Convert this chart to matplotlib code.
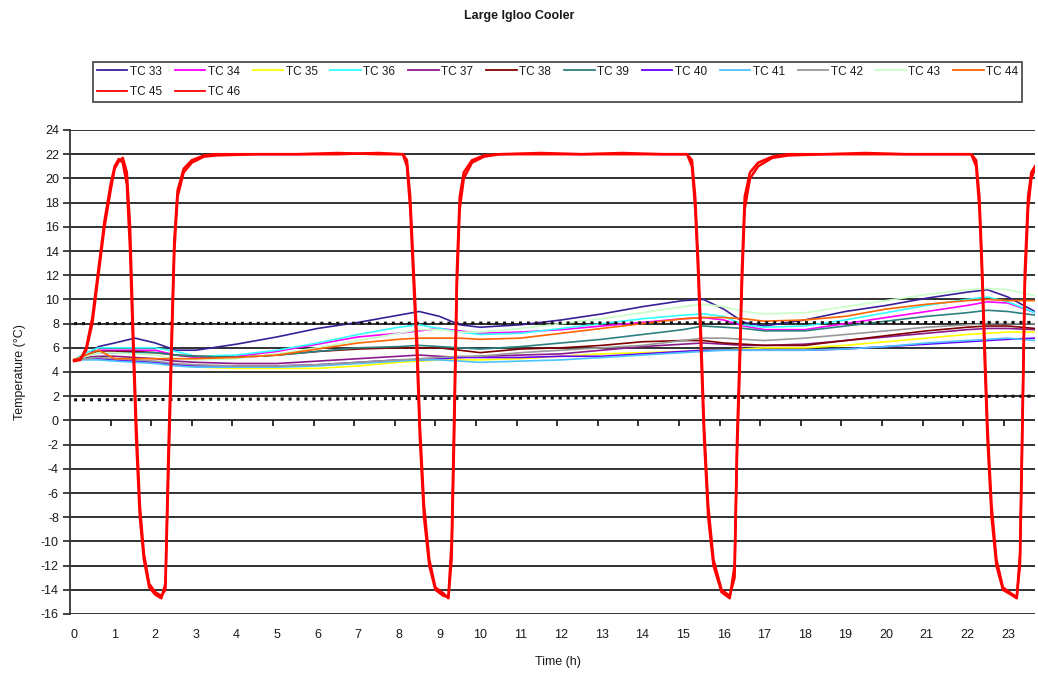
import numpy as np
import matplotlib
matplotlib.use("Agg")
import matplotlib.pyplot as plt
from matplotlib.ticker import FixedLocator

plt.rcParams['font.family'] = ['Liberation Sans', 'DejaVu Sans']

# ---------------- data ----------------
hours = [0, 0.3, 0.6, 1, 1.5, 2, 2.5, 3, 4, 5, 6, 7, 8, 8.5, 9, 9.5, 10, 11, 12,
         13, 14, 15, 15.5, 16, 16.5, 17, 18, 19, 20, 21, 22, 22.5, 23, 23.67]

tc33 = [5.0, 5.3, 6.1, 6.4, 6.8, 6.4, 5.8, 5.8, 6.3, 6.9, 7.6, 8.1, 8.7, 9.0, 8.6, 7.9, 7.7,
        7.9, 8.3, 8.8, 9.4, 9.9, 10.0, 9.2, 8.1, 7.8, 8.3, 9.0, 9.5, 10.1, 10.6, 10.8, 10.2, 9.0]
tc34 = [5.0, 5.4, 5.8, 5.8, 5.8, 5.8, 5.4, 5.2, 5.3, 5.7, 6.3, 6.9, 7.2, 7.4, 7.6, 7.4, 7.2,
        7.3, 7.5, 7.8, 8.1, 8.4, 8.5, 8.3, 7.8, 7.5, 7.5, 8.0, 8.5, 9.0, 9.5, 9.8, 9.7, 8.9]
tc35 = [5.0, 5.1, 5.2, 5.1, 5.0, 4.8, 4.6, 4.4, 4.3, 4.3, 4.3, 4.5, 4.8, 4.9, 5.0, 5.0, 5.0,
        5.1, 5.3, 5.5, 5.6, 5.7, 5.8, 5.8, 5.9, 6.0, 6.0, 6.2, 6.5, 6.8, 7.1, 7.2, 7.3, 7.3]
tc36 = [5.0, 5.6, 6.0, 6.0, 6.0, 6.0, 5.7, 5.3, 5.4, 5.8, 6.4, 7.1, 7.7, 7.9, 7.6, 7.3, 7.1,
        7.2, 7.6, 8.0, 8.4, 8.7, 8.8, 8.6, 7.9, 7.7, 7.8, 8.3, 8.9, 9.5, 10.0, 10.2, 9.8, 8.9]
tc37 = [5.0, 5.2, 5.3, 5.3, 5.2, 5.1, 4.9, 4.8, 4.7, 4.7, 4.9, 5.1, 5.3, 5.4, 5.3, 5.2, 5.3,
        5.4, 5.5, 5.8, 6.1, 6.3, 6.4, 6.3, 6.2, 6.2, 6.3, 6.6, 6.9, 7.2, 7.5, 7.6, 7.6, 7.5]
tc38 = [5.0, 5.4, 5.7, 5.7, 5.7, 5.6, 5.4, 5.3, 5.2, 5.4, 5.7, 5.9, 6.0, 6.0, 6.0, 5.8, 5.6,
        5.9, 6.0, 6.2, 6.5, 6.6, 6.6, 6.4, 6.3, 6.2, 6.2, 6.6, 7.0, 7.4, 7.7, 7.8, 7.8, 7.6]
tc39 = [5.0, 5.3, 5.6, 5.6, 5.6, 5.6, 5.4, 5.3, 5.2, 5.4, 5.7, 6.0, 6.1, 6.2, 6.1, 6.0, 5.9,
        6.1, 6.4, 6.7, 7.1, 7.5, 7.8, 7.7, 7.6, 7.4, 7.4, 7.8, 8.2, 8.6, 8.9, 9.1, 9.0, 8.7]
tc40 = [5.0, 5.1, 5.1, 5.0, 4.9, 4.8, 4.6, 4.5, 4.5, 4.5, 4.6, 4.8, 5.0, 5.0, 5.1, 5.2, 5.2,
        5.2, 5.3, 5.3, 5.5, 5.7, 5.8, 5.8, 5.8, 5.8, 5.8, 5.9, 6.1, 6.3, 6.5, 6.6, 6.7, 6.8]
tc41 = [5.0, 5.0, 5.0, 4.9, 4.8, 4.7, 4.5, 4.4, 4.4, 4.4, 4.5, 4.7, 4.9, 5.0, 5.0, 4.9, 4.8,
        4.9, 5.0, 5.2, 5.4, 5.6, 5.7, 5.8, 5.8, 5.8, 5.8, 5.9, 6.1, 6.4, 6.6, 6.7, 6.8, 6.6]
tc42 = [5.0, 5.1, 5.2, 5.1, 5.0, 4.9, 4.7, 4.6, 4.5, 4.5, 4.6, 4.8, 5.0, 5.1, 5.2, 5.3, 5.3,
        5.6, 5.8, 6.0, 6.2, 6.6, 6.8, 6.8, 6.7, 6.6, 6.8, 7.1, 7.4, 7.7, 7.9, 8.0, 8.0, 8.0]
tc43 = [5.0, 5.3, 5.6, 5.6, 5.5, 5.4, 5.1, 5.0, 5.1, 5.5, 6.0, 6.6, 7.2, 7.5, 7.5, 7.3, 7.3,
        7.6, 8.0, 8.4, 8.9, 9.4, 9.6, 9.4, 9.0, 8.8, 8.9, 9.4, 9.9, 10.4, 10.8, 10.9, 10.8, 10.3]
tc44 = [5.0, 5.4, 5.8, 5.1, 5.1, 5.1, 5.1, 5.1, 5.2, 5.4, 5.9, 6.4, 6.7, 6.8, 6.8, 6.8, 6.7,
        6.8, 7.2, 7.6, 8.0, 8.4, 8.5, 8.5, 8.4, 8.2, 8.3, 8.6, 9.2, 9.6, 9.9, 10.0, 9.9, 9.9]

red_hours = [0, 0.15, 0.3, 0.45, 0.6, 0.75, 0.9, 1.0, 1.1, 1.2,
             1.3, 1.38, 1.45, 1.53, 1.62, 1.72, 1.85, 2.0, 2.15, 2.25,
             2.32, 2.41, 2.47, 2.55, 2.7, 2.9, 3.2, 3.5, 4.5, 5.5,
             6.5, 7.5, 8.1, 8.2, 8.28, 8.35, 8.45, 8.52, 8.62, 8.75,
             8.9, 9.1, 9.22, 9.3, 9.36, 9.43, 9.5, 9.6, 9.8, 10.1,
             10.5, 11.5, 12.5, 13.5, 14.5, 15.1, 15.22, 15.3, 15.37, 15.45,
             15.52, 15.62, 15.75, 15.95, 16.15, 16.27, 16.33, 16.4, 16.45, 16.52,
             16.65, 16.85, 17.2, 17.6, 18.5, 19.5, 20.5, 21.5, 22.1, 22.22,
             22.3, 22.36, 22.43, 22.5, 22.6, 22.72, 22.88, 23.08, 23.22, 23.3,
             23.35, 23.42, 23.5, 23.58, 23.67]
tc45 = [5.0, 5.0, 6.0, 8.5, 12.5, 16.5, 19.5, 21.0, 21.6, 21.3,
        19.5, 14.0, 6.5, -1.6, -8.0, -11.5, -13.8, -14.4, -14.7, -13.5,
        -3.0, 8.0, 15.0, 19.0, 20.8, 21.5, 21.9, 22.0, 22.0, 22.0,
        22.1, 22.0, 22.0, 21.0, 17.5, 12.4, 5.0, -1.6, -8.0, -12.0,
        -14.0, -14.5, -14.6, -10.0, 0.0, 12.4, 18.5, 20.5, 21.5, 21.9,
        22.0, 22.0, 22.0, 22.0, 22.0, 22.0, 21.0, 17.5, 12.4, 5.0,
        -1.6, -8.0, -12.0, -14.2, -14.7, -12.0, -1.6, 6.0, 12.4, 18.5,
        20.5, 21.3, 21.8, 22.0, 22.0, 22.0, 22.0, 22.0, 22.0, 21.0,
        17.5, 12.4, 5.0, -1.6, -8.0, -12.0, -14.0, -14.4, -14.7, -11.0,
        -1.6, 12.4, 18.5, 20.5, 21.0]
tc46 = [4.9, 5.0, 5.8, 8.0, 12.0, 16.0, 19.0, 20.8, 21.4, 21.7,
        20.5, 16.0, 8.0, 0.0, -7.0, -11.0, -13.5, -14.2, -14.5, -14.0,
        -5.0, 6.5, 14.0, 18.5, 20.5, 21.3, 21.8, 21.9, 22.0, 22.0,
        22.0, 22.1, 22.0, 21.5, 18.5, 13.5, 6.5, -0.5, -7.0, -11.5,
        -13.8, -14.3, -14.7, -11.5, -2.0, 11.0, 17.5, 20.0, 21.3, 21.8,
        22.0, 22.1, 22.0, 22.1, 22.0, 22.0, 21.5, 18.5, 13.5, 6.5,
        -0.5, -7.0, -11.5, -14.0, -14.5, -13.0, -3.0, 4.5, 11.0, 17.5,
        20.0, 21.0, 21.7, 21.9, 22.0, 22.1, 22.0, 22.0, 22.0, 21.5,
        18.5, 13.5, 6.5, -0.5, -7.0, -11.5, -13.8, -14.3, -14.6, -12.0,
        -3.0, 11.0, 17.5, 20.0, 20.8]

limit_hours = [0, 23.67]
limit_high = [8.0, 8.1]
limit_low = [1.7, 2.0]

series_labels = ['TC 33', 'TC 34', 'TC 35', 'TC 36', 'TC 37', 'TC 38', 'TC 39',
                 'TC 40', 'TC 41', 'TC 42', 'TC 43', 'TC 44', 'TC 45', 'TC 46']
series_colors = ['#3a1f96', '#ff00ff', '#ffff00', '#33ffff', '#8b1a8b', '#800000',
                 '#2e8080', '#6600ff', '#4cc3ff', '#999999', '#c8ffc8', '#ff6600',
                 '#ff0000', '#ff0000']
x_tick_labels = [str(h) for h in range(24)]
y_ticks = list(range(-16, 25, 2))

# ---------------- figure ----------------
W, H = 1038, 675
fig = plt.figure(figsize=(W / 100, H / 100), dpi=100)
ax = fig.add_axes([70 / W, 1 - 614 / H, (1035 - 70) / W, (614 - 130) / H])

txt = '#1a1a1a'
series_values = [tc33, tc34, tc35, tc36, tc37, tc38, tc39, tc40, tc41, tc42, tc43, tc44]
handles = []
for vals, lab, col in zip(series_values, series_labels[:12], series_colors[:12]):
    h, = ax.plot(hours, vals, color=col, lw=1.2, label=lab, zorder=3)
    handles.append(h)

ax.plot(limit_hours, limit_high, color='#111111', lw=2.2, ls=(0, (1, 1.6)), zorder=4)
ax.plot(limit_hours, limit_low, color='#111111', lw=2.2, ls=(0, (1, 1.6)), zorder=4)

for vals, lab, col in zip([tc45, tc46], series_labels[12:], series_colors[12:]):
    h, = ax.plot(red_hours, vals, color=col, lw=1.8, label=lab, zorder=5)
    handles.append(h)

ax.set_xlim(-0.1, 23.67)
ax.set_ylim(-16, 24)
ax.set_yticks(y_ticks)
ax.set_yticklabels([str(v) for v in y_ticks])
ax.yaxis.grid(True, color='#222222', lw=1.3)
ax.set_axisbelow(True)

ax.set_xticks(range(24))
ax.set_xticklabels(x_tick_labels)
ax.xaxis.set_minor_locator(FixedLocator(np.arange(0.9, 23.5, 1.0)))
ax.spines['bottom'].set_position(('data', 0))
ax.spines['bottom'].set_visible(False)
ax.spines['top'].set_visible(False)
ax.spines['right'].set_visible(False)
ax.spines['left'].set_color('#333333')
ax.spines['left'].set_linewidth(1.3)
ax.tick_params(axis='x', which='major', length=0, pad=150, labelsize=9, labelcolor=txt)
ax.tick_params(axis='x', which='minor', length=4, width=1.3, color='#222222', direction='out')
ax.tick_params(axis='y', length=5, width=1.3, color='#333333', pad=3, labelsize=9, labelcolor=txt)

fig.text(0.5, 1 - 16 / H, 'Large Igloo Cooler', ha='center', va='center',
         fontsize=9, fontweight='bold', color=txt)
fig.text(558 / W, 1 - 662 / H, 'Time (h)', ha='center', va='center', fontsize=9, color=txt)
fig.text(20 / W, 1 - 372 / H, 'Temperature (°C)', ha='center', va='center',
         rotation=90, fontsize=9, color=txt)

# legend: row-major order for 12 columns
order = [0, 12, 1, 13] + list(range(2, 12))
leg = fig.legend([handles[i] for i in order], [series_labels[i] for i in order],
                 loc='upper left', bbox_to_anchor=(93 / W, 1 - 103 / H, (1022 - 93) / W, 41 / H),
                 mode='expand', ncol=12, fontsize=8.5, frameon=True, fancybox=False,
                 edgecolor='#222222', handlelength=2.6, handletextpad=0.2,
                 borderpad=0.3, labelspacing=0.75, columnspacing=0.8, borderaxespad=0)
leg.get_frame().set_linewidth(1.3)
for t in leg.get_texts():
    t.set_color(txt)
for ln in leg.get_lines():
    ln.set_linewidth(1.3)

fig.savefig('out.png', dpi=100)
